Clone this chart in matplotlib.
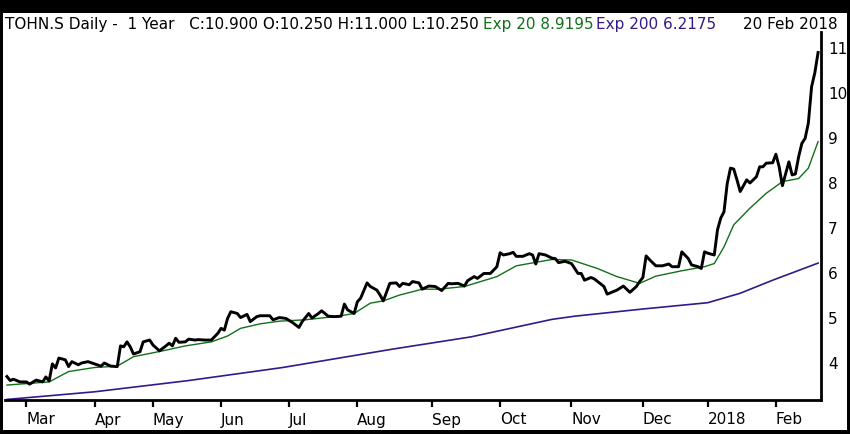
import matplotlib
matplotlib.use("Agg")
import matplotlib.pyplot as plt
from matplotlib.patches import Rectangle

# ---- data (x = trading-day index over the year, y = price) ----
close_day = [0, 1, 2, 4, 6, 7, 9, 11, 12, 13, 14, 15, 16, 18, 19, 20, 22, 23, 25, 27,
             29, 30, 32, 34, 35, 36, 37, 38, 39, 41, 42, 44, 45, 47, 49, 50, 51, 52, 53, 55,
             56, 58, 59, 61, 63, 65, 66, 67, 68, 69, 71, 72, 74, 75, 77, 78, 81, 82, 84, 86,
             88, 90, 91, 93, 94, 96, 97, 99, 101, 103, 104, 105, 107, 108, 109, 111, 112, 114, 115, 116,
             118, 120, 121, 122, 124, 125, 127, 128, 130, 132, 134, 136, 137, 139, 141, 142, 144, 145, 147, 149,
             151, 152, 153, 155, 156, 157, 159, 161, 162, 163, 164, 166, 168, 169, 170, 172, 174, 176, 177, 178,
             180, 181, 184, 185, 188, 190, 192, 194, 195, 196, 197, 198, 200, 202, 204, 205, 207, 208, 210, 211,
             213, 214, 215, 216, 218, 219, 220, 221, 222, 223, 224, 225, 226, 228, 229, 230, 231, 232, 233, 234,
             236, 237, 238, 239, 241, 242, 243, 244, 245, 246, 247, 248, 249, 250]
close_val = [3.70, 3.61, 3.64, 3.58, 3.58, 3.53, 3.62, 3.58, 3.69, 3.60, 3.98, 3.89, 4.11, 4.07, 3.92, 4.03, 3.96, 4.00, 4.03, 3.98,
             3.93, 4.00, 3.93, 3.92, 4.38, 4.36, 4.47, 4.36, 4.20, 4.25, 4.47, 4.51, 4.40, 4.27, 4.38, 4.44, 4.38, 4.55, 4.46, 4.47,
             4.53, 4.51, 4.52, 4.51, 4.51, 4.66, 4.77, 4.73, 4.99, 5.14, 5.10, 5.01, 5.08, 4.92, 5.03, 5.05, 5.05, 4.96, 5.01, 4.99,
             4.90, 4.79, 4.92, 5.10, 5.00, 5.10, 5.16, 5.04, 5.03, 5.04, 5.31, 5.18, 5.10, 5.36, 5.44, 5.78, 5.70, 5.62, 5.51, 5.38,
             5.77, 5.78, 5.70, 5.77, 5.74, 5.81, 5.78, 5.64, 5.71, 5.70, 5.61, 5.77, 5.76, 5.77, 5.71, 5.83, 5.92, 5.88, 5.99, 5.99,
             6.14, 6.45, 6.40, 6.43, 6.46, 6.37, 6.37, 6.43, 6.40, 6.20, 6.43, 6.40, 6.33, 6.32, 6.23, 6.26, 6.21, 5.99, 5.99, 5.84,
             5.90, 5.87, 5.70, 5.53, 5.62, 5.71, 5.57, 5.70, 5.81, 5.90, 6.38, 6.30, 6.16, 6.16, 6.20, 6.14, 6.14, 6.47, 6.32, 6.18,
             6.14, 6.10, 6.47, 6.44, 6.40, 6.96, 7.22, 7.36, 7.99, 8.33, 8.31, 8.07, 7.81, 8.07, 8.00, 8.07, 8.14, 8.36, 8.36, 8.44,
             8.45, 8.64, 8.36, 7.94, 8.47, 8.18, 8.20, 8.58, 8.88, 8.99, 9.33, 10.14, 10.45, 10.90]

ema20_day = [0, 13, 19, 27, 34, 39, 48, 55, 63, 68, 72, 78, 84, 92, 102, 107, 112, 116, 121, 128,
             133, 141, 151, 157, 164, 168, 174, 182, 188, 195, 200, 208, 215, 218, 221, 224, 229, 234, 239, 244,
             247, 250]
ema20_val = [3.51, 3.58, 3.81, 3.90, 3.93, 4.14, 4.27, 4.38, 4.47, 4.60, 4.77, 4.87, 4.93, 4.96, 5.04, 5.10, 5.33, 5.38, 5.51, 5.64,
             5.64, 5.70, 5.92, 6.16, 6.25, 6.30, 6.29, 6.10, 5.92, 5.77, 5.93, 6.05, 6.14, 6.21, 6.58, 7.07, 7.44, 7.77, 8.03, 8.10,
             8.33, 8.92]

ema200_day = [0, 27, 56, 85, 119, 143, 168, 175, 196, 216, 226, 236, 250]
ema200_val = [3.19, 3.36, 3.61, 3.90, 4.31, 4.58, 4.97, 5.04, 5.20, 5.34, 5.55, 5.84, 6.22]

month_tick_day = [6, 27, 45, 66, 87, 108, 131, 152, 174, 196, 216, 237]
month_labels = ["Mar", "Apr", "May", "Jun", "Jul", "Aug", "Sep", "Oct", "Nov", "Dec", "2018", "Feb"]
y_ticks = [4, 5, 6, 7, 8, 9, 10, 11]

header_main = "TOHN.S Daily -  1 Year   C:10.900 O:10.250 H:11.000 L:10.250"
header_ema20 = "Exp 20 8.9195"
header_ema200 = "Exp 200 6.2175"
header_date = "20 Feb 2018"

# ---- styling ----
plt.rcParams['font.family'] = ['DejaVu Sans']
W, H = 850, 434
fig = plt.figure(figsize=(W / 100, H / 100), dpi=100, facecolor="black")
fig.add_artist(Rectangle((3 / W, 4 / H), 844 / W, 417 / H, transform=fig.transFigure,
                         facecolor="white", edgecolor="none", zorder=0))

ax = fig.add_axes([5 / W, (H - 400) / H, 816 / W, 368 / H])
ax.set_facecolor("none")

GREEN = "#13701a"
PURPLE = "#35198a"
ax.plot(ema200_day, ema200_val, color=PURPLE, lw=1.2, zorder=2)
ax.plot(ema20_day, ema20_val, color=GREEN, lw=1.0, zorder=3)
ax.plot(close_day, close_val, color="black", lw=2.1, zorder=4, solid_joinstyle="round")

ax.set_xlim(-0.6, 250.9)
ax.set_ylim(4 - 37 / 45, 11 + 16 / 45)

for s in ("left", "top"):
    ax.spines[s].set_visible(False)
for s in ("bottom", "right"):
    ax.spines[s].set_linewidth(2.0)
    ax.spines[s].set_color("black")

ax.yaxis.tick_right()
ax.set_yticks(y_ticks)
ax.set_yticklabels([str(v) for v in y_ticks])
ax.tick_params(axis="y", length=0, pad=5, labelsize=11)

ax.set_xticks(month_tick_day)
ax.set_xticklabels(month_labels, ha="left")
for lab in ax.get_xticklabels():
    lab.set_x(lab.get_position()[0])
ax.tick_params(axis="x", direction="out", length=5, width=1.6, pad=4, labelsize=11)

# header
yb = (H - 29) / H
fig.text(5 / W, yb, header_main, fontsize=11, color="black", va="baseline", ha="left")
fig.text(483 / W, yb, header_ema20, fontsize=11, color=GREEN, va="baseline", ha="left")
fig.text(596 / W, yb, header_ema200, fontsize=11, color=PURPLE, va="baseline", ha="left")
fig.text(838 / W, yb, header_date, fontsize=11, color="black", va="baseline", ha="right")

fig.savefig("out.png", dpi=100, facecolor="black")
